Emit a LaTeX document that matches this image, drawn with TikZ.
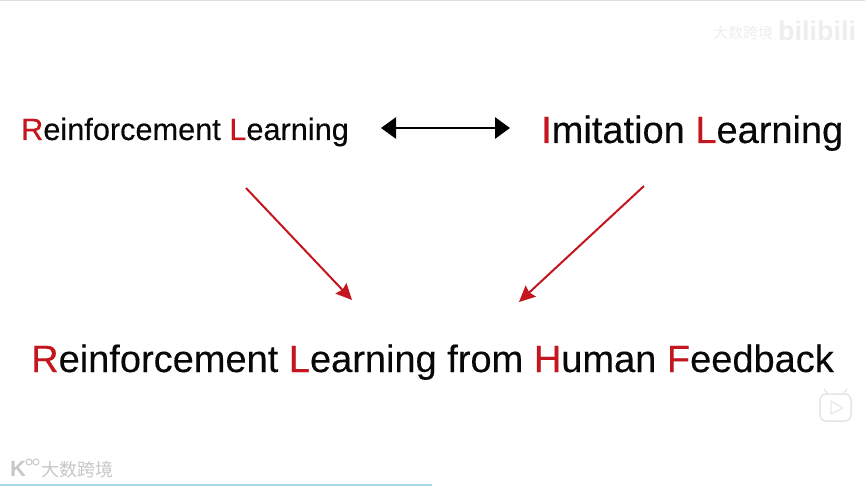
\documentclass[tikz,border=0pt]{standalone}
\usepackage{fontspec}
\setmainfont[FakeBold=0.25]{Liberation Sans}
\newfontfamily\plainsans{Liberation Sans}
\newfontfamily\cjk{Noto Sans CJK SC}
\definecolor{lred}{HTML}{C4161E}
\definecolor{atxt}{HTML}{080808}
\definecolor{wmark}{HTML}{EEEEEE}
\definecolor{barc}{HTML}{A8D8E8}
\newcommand{\rl}[1]{\textcolor{lred}{#1}}
\usetikzlibrary{arrows.meta}
\tikzset{x=1pt,y=-1pt,
  label text/.style={inner sep=0pt,text=atxt,anchor=base west},
  red arrow/.style={draw=lred,line width=2pt,-{Stealth[length=16pt,width=15pt,inset=2pt]}},
  black arrow/.style={draw=black,line width=2.8pt,{Triangle[length=15pt,width=21pt]}-{Triangle[length=15pt,width=21pt]}},
  faint/.style={inner sep=0pt,text=wmark}}
\begin{document}
\begin{tikzpicture}
\useasboundingbox (0,0) rectangle (865,486);
\fill[white] (0,0) rectangle (865,486);
\coordinate (topl) at (0,0.5); \coordinate (topr) at (865,0.5);
\draw[line width=1pt,draw=black!12] (topl) -- (topr);
\coordinate (barl) at (0,485); \coordinate (barr) at (432,485);
\draw[line width=2pt,draw=barc] (barl) -- (barr);
\node[label text,font=\fontsize{30.7}{32}\selectfont] (rl) at (21,140) {\rl{R}einforcement \rl{L}earning};
\node[label text,font=\fontsize{38}{40}\selectfont] (il) at (541,143) {\rl{I}mitation \rl{L}earning};
\node[label text,font=\fontsize{38}{40}\selectfont] (rlhf) at (31,372) {\rl{R}einforcement \rl{L}earning from \rl{H}uman \rl{F}eedback};
\coordinate (a1) at (381,128); \coordinate (a2) at (510,128);
\draw[black arrow] (a1) -- (a2);
\coordinate (b1) at (246,188); \coordinate (b2) at (352,300);
\draw[red arrow] (b1) -- (b2);
\coordinate (c1) at (644,186); \coordinate (c2) at (519,302);
\draw[red arrow] (c1) -- (c2);
\node[faint,font=\plainsans\bfseries\fontsize{27}{28}\selectfont] (bili) at (817,31) {bilibili};
\node[faint,font=\cjk\fontsize{15}{18}\selectfont] (sb) at (743,33) {大数跨境};
\node[faint,font=\cjk\fontsize{18}{18}\selectfont,text=black!22] (wm) at (77,470) {大数跨境};
\node[faint,font=\plainsans\bfseries\fontsize{22}{22}\selectfont,text=black!22] (k) at (18,469) {K};
\draw[draw=black!22,line width=1pt] (29,462) circle (3) (36,462) circle (3);
\draw[draw=black!10,line width=1.5pt,rounded corners=6pt] (820,394) rectangle (851,421);
\coordinate (e1) at (828,394); \coordinate (e2) at (824,389); \coordinate (e3) at (843,394); \coordinate (e4) at (847,389);
\draw[draw=black!10,line width=1.2pt] (e1) -- (e2) (e3) -- (e4);
\coordinate (p1) at (831,401); \coordinate (p2) at (843,408); \coordinate (p3) at (831,414);
\draw[draw=black!10,line width=1pt] (p1) -- (p2) -- (p3) -- cycle;
\end{tikzpicture}
\end{document}
